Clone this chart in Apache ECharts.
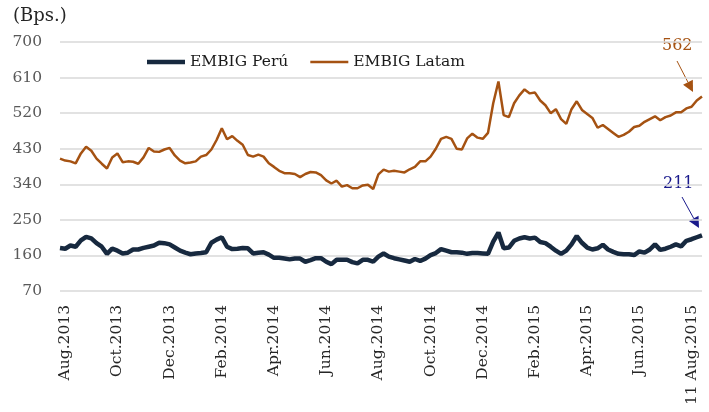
<!DOCTYPE html>
<html>
<head>
<meta charset="utf-8">
<title>EMBIG Perú vs EMBIG Latam</title>
<script src="https://cdn.jsdelivr.net/npm/echarts@6/dist/echarts.min.js"></script>
<style>
  html, body { margin: 0; padding: 0; background: #fff; }
  #chart { width: 709px; height: 412px; }
</style>
</head>
<body>
<div id="chart"></div>
<script>
// etiquetas del eje X (una cada 10 puntos, empezando en el punto 1)
const tickLabels = ['Aug.2013', 'Oct.2013', 'Dec.2013', 'Feb.2014', 'Apr.2014', 'Jun.2014',
  'Aug.2014', 'Oct.2014', 'Dec.2014', 'Feb.2015', 'Apr.2015', 'Jun.2015', '11 Aug.2015']
const pointsPerTick = 10

// spreads en puntos básicos (aprox. semanal)
const embigLatam = [
  405, 400, 398, 393, 418, 435, 425, 405, 392, 380,
  408, 418, 396, 398, 397, 392, 408, 432, 423, 422,
  428, 432, 413, 400, 393, 395, 398, 410, 414, 428,
  452, 482, 454, 462, 450, 440, 414, 410, 415, 410,
  393, 384, 374, 368, 368, 366, 358, 366, 371, 370,
  363, 350, 342, 349, 334, 338, 330, 330, 337, 339,
  328, 365, 377, 372, 374, 372, 370, 378, 384, 398,
  398, 410, 430, 455, 460, 455, 430, 428, 456, 468,
  458, 455, 470, 545, 600, 515, 510, 545, 565, 580,
  570, 572, 552, 540, 520, 530, 505, 493, 530, 550,
  528, 518, 508, 483, 490, 480, 470, 460, 465, 473,
  485, 488, 498, 505, 512, 502, 510, 514, 522, 522,
  532, 536, 552, 562
]
const embigPeru = [
  179, 177, 185, 182, 198, 207, 203, 191, 182, 164,
  177, 172, 165, 167, 175, 175, 179, 182, 185, 192,
  191, 188, 180, 172, 167, 163, 165, 166, 168, 192,
  200, 206, 182, 176, 177, 179, 178, 165, 167, 168,
  162, 154, 154, 152, 150, 152, 152, 144, 148, 153,
  153, 144, 138, 149, 149, 149, 143, 140, 149, 149,
  144, 157, 165, 157, 153, 150, 147, 144, 151, 146,
  152, 161, 166, 176, 172, 168, 168, 167, 164, 166,
  166, 165, 164, 195, 218, 178, 180, 197, 203, 206,
  203, 205, 194, 191, 182, 172, 164, 172, 188, 209,
  192, 180, 175, 178, 187, 175, 169, 164, 163, 163,
  161, 170, 167, 175, 188, 174, 177, 182, 188, 183,
  197, 201, 206, 211
]

const yTicks = { min: 70, max: 700, step: 90 }

const categories = embigLatam.map((_, i) =>
  (i >= 1 && (i - 1) % pointsPerTick === 0) ? tickLabels[(i - 1) / pointsPerTick] || '' : ''
)

const FONT = 'DejaVu Serif'
const PERU = '#17293f'
const LATAM = '#a55212'

const chart = echarts.init(document.getElementById('chart'))

// flecha de anotación (línea + punta triangular)
function arrow(x1, y1, x2, y2, color) {
  const dx = x2 - x1, dy = y2 - y1
  const len = Math.sqrt(dx * dx + dy * dy)
  const ux = dx / len, uy = dy / len
  const hl = 11, hw = 5.5
  const bx = x2 - ux * hl, by = y2 - uy * hl
  return [
    { type: 'line', shape: { x1: x1, y1: y1, x2: bx, y2: by }, style: { stroke: color, lineWidth: 1 } },
    { type: 'polygon', shape: { points: [[x2, y2], [bx - uy * hw, by + ux * hw], [bx + uy * hw, by - ux * hw]] },
      style: { fill: color } }
  ]
}

const option = {
  animation: false,
  grid: { left: 60, right: 7, top: 42, bottom: 121 },
  legend: {
    left: 147,
    top: 54,
    padding: 0,
    itemWidth: 38,
    itemHeight: 14,
    itemGap: 22,
    itemStyle: { borderWidth: 0 },
    textStyle: { fontFamily: FONT, fontSize: 15.5, color: '#1a1a1a' },
    data: [
      { name: 'EMBIG Perú', icon: 'path://M0,0H38V4.5H0Z' },
      { name: 'EMBIG Latam', icon: 'path://M0,0H38V2.5H0Z' }
    ]
  },
  xAxis: {
    type: 'category',
    data: categories,
    boundaryGap: false,
    axisLine: { show: false },
    axisTick: { show: false },
    axisLabel: {
      interval: (idx) => categories[idx] !== '',
      rotate: 90,
      margin: 14,
      fontFamily: FONT,
      fontSize: 15.5,
      color: '#262626'
    },
    splitLine: { show: false }
  },
  yAxis: {
    type: 'value',
    min: yTicks.min,
    max: yTicks.max,
    interval: yTicks.step,
    axisLine: { show: false },
    axisTick: { show: false },
    axisLabel: { margin: 18, fontFamily: FONT, fontSize: 15.5, color: '#595959' },
    splitLine: { lineStyle: { color: '#d9d9d9', width: 1.5 } }
  },
  series: [
    {
      name: 'EMBIG Perú',
      type: 'line',
      data: embigPeru,
      symbol: 'none',
      color: PERU,
      lineStyle: { width: 4.5, color: PERU }
    },
    {
      name: 'EMBIG Latam',
      type: 'line',
      data: embigLatam,
      symbol: 'none',
      color: LATAM,
      lineStyle: { width: 2.5, color: LATAM }
    }
  ],
  graphic: [
    { type: 'text', left: 13, top: 7, style: { text: '(Bps.)', fontFamily: FONT, fontSize: 18, fill: '#262626' } },
    { type: 'text', left: 662, top: 38, style: { text: '562', fontFamily: FONT, fontSize: 16, fill: LATAM } },
    { type: 'text', left: 663, top: 176, style: { text: '211', fontFamily: FONT, fontSize: 16, fill: '#1a1a8c' } }
  ].concat(arrow(677, 61, 693, 92, LATAM), arrow(682, 197, 699, 228, '#1a1a8c'))
}

chart.setOption(option)
</script>
</body>
</html>
